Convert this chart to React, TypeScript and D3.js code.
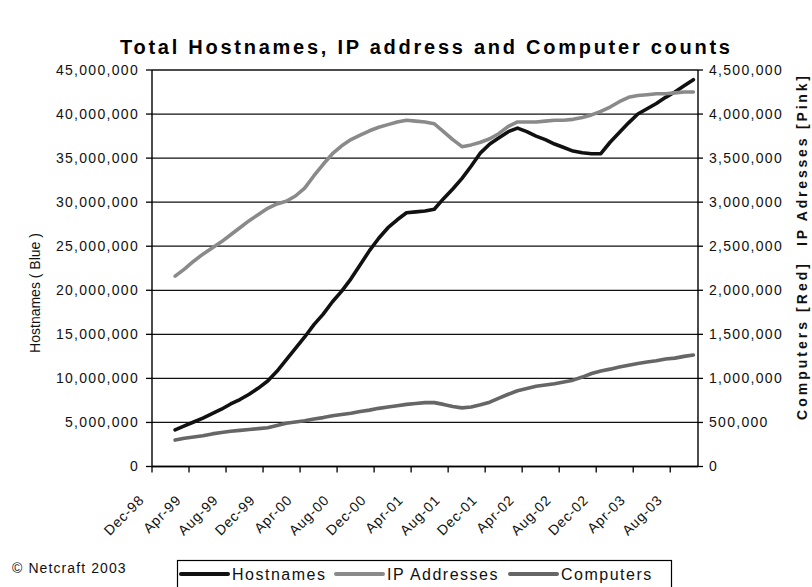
import React from "react";
import * as d3 from "d3";

// Monthly survey categories, Dec-98 .. Oct-03
const months: string[] = d3
  .timeMonths(new Date(1998, 11, 1), new Date(2003, 10, 1))
  .map(d3.timeFormat("%b-%y"));

// Survey starts in Feb-99 (first two months have no readings)
const hostnamesM: (number | null)[] = [
  null, null,
  4.15, 4.6, 5.05, 5.5, 6.0, 6.5, 7.1, 7.6, 8.2, 8.9,
  9.7, 10.8, 12.1, 13.4, 14.7, 16.1, 17.3, 18.7, 19.9, 21.3,
  22.9, 24.5, 25.9, 27.1, 28.0, 28.8, 28.9, 29.0, 29.2, 30.4,
  31.5, 32.7, 34.1, 35.6, 36.6, 37.3, 38.0, 38.4, 38.0, 37.5,
  37.1, 36.6, 36.2, 35.8, 35.6, 35.5, 35.5, 36.8, 37.9, 39.0,
  40.0, 40.6, 41.2, 41.9, 42.5, 43.2, 43.9,
];

const ipAddressesM: (number | null)[] = [
  null, null,
  2.16, 2.24, 2.33, 2.41, 2.48, 2.55, 2.63, 2.71, 2.79, 2.86,
  2.93, 2.98, 3.01, 3.07, 3.16, 3.30, 3.43, 3.55, 3.64, 3.71,
  3.76, 3.81, 3.85, 3.88, 3.91, 3.93, 3.92, 3.91, 3.89, 3.80,
  3.71, 3.63, 3.65, 3.68, 3.72, 3.78, 3.86, 3.91, 3.91, 3.91,
  3.92, 3.93, 3.93, 3.94, 3.96, 3.99, 4.03, 4.08, 4.14, 4.19,
  4.21, 4.22, 4.23, 4.23, 4.24, 4.25, 4.25,
];

const computersM: (number | null)[] = [
  null, null,
  0.30, 0.32, 0.335, 0.35, 0.37, 0.385, 0.40, 0.41, 0.42, 0.43,
  0.44, 0.465, 0.49, 0.505, 0.52, 0.54, 0.555, 0.575, 0.59, 0.605,
  0.625, 0.64, 0.66, 0.675, 0.69, 0.705, 0.715, 0.725, 0.725, 0.705,
  0.68, 0.665, 0.675, 0.70, 0.73, 0.775, 0.82, 0.86, 0.885, 0.91,
  0.925, 0.94, 0.96, 0.98, 1.015, 1.055, 1.085, 1.105, 1.13, 1.15,
  1.17, 1.185, 1.20, 1.22, 1.23, 1.25, 1.265,
];

const leftTicks: number[] = [0, 5e6, 10e6, 15e6, 20e6, 25e6, 30e6, 35e6, 40e6, 45e6];
const rightTicks: number[] = [0, 5e5, 1e6, 1.5e6, 2e6, 2.5e6, 3e6, 3.5e6, 4e6, 4.5e6];

const legendNames: string[] = ["Hostnames", "IP Addresses", "Computers"];

const FONT = "'Liberation Sans', Arial, sans-serif";

export default function App() {
  const W = 812;
  const H = 587;
  const left = 152;
  const right = 698;
  const top = 70;
  const bottom = 466.5;

  const x = d3.scaleBand<string>().domain(months).range([left, right]).padding(0);
  const cx = (i: number) => (x(months[i]) as number) + x.bandwidth() / 2;
  const yL = d3.scaleLinear().domain([0, 45e6]).range([bottom, top]);
  const yR = d3.scaleLinear().domain([0, 4.5e6]).range([bottom, top]);
  const fmt = d3.format(",");

  const lineL = d3
    .line<number | null>()
    .defined((d) => d != null)
    .x((_, i) => cx(i))
    .y((d) => yL((d as number) * 1e6));
  const lineR = d3
    .line<number | null>()
    .defined((d) => d != null)
    .x((_, i) => cx(i))
    .y((d) => yR((d as number) * 1e6));

  const series = [
    { name: legendNames[0], d: lineL(hostnamesM) || "", color: "#111111" },
    { name: legendNames[1], d: lineR(ipAddressesM) || "", color: "#8a8a8a" },
    { name: legendNames[2], d: lineR(computersM) || "", color: "#666666" },
  ];

  const tickIdx = months.map((_, i) => i).filter((i) => i % 4 === 0);
  const legendX = [181, 336, 510];

  return (
    <svg
      width={W}
      height={H}
      style={{ position: "absolute", left: 0, top: 0, background: "#fff" }}
      fontFamily={FONT}
    >
      <rect x={0} y={0} width={W} height={H} fill="#fff" />

      {/* title */}
      <text
        x={425}
        y={54}
        textAnchor="middle"
        fontSize={20}
        fontWeight="bold"
        textLength={610}
        lengthAdjust="spacing"
        fill="#000"
      >
        Total Hostnames, IP address and Computer counts
      </text>

      {/* horizontal gridlines */}
      {leftTicks.map((t) => (
        <line
          key={"g" + t}
          x1={left}
          x2={right}
          y1={yL(t)}
          y2={yL(t)}
          stroke="#111"
          strokeWidth={1.3}
        />
      ))}

      {/* axes */}
      <line x1={left} x2={left} y1={top} y2={bottom + 0.5} stroke="#000" strokeWidth={1.4} />
      <line x1={right} x2={right} y1={top} y2={bottom + 0.5} stroke="#000" strokeWidth={1.4} />
      <line x1={left} x2={right} y1={bottom} y2={bottom} stroke="#000" strokeWidth={1.4} />

      {/* left axis ticks and labels */}
      {leftTicks.map((t) => (
        <g key={"l" + t}>
          <line x1={left - 6} x2={left} y1={yL(t)} y2={yL(t)} stroke="#000" strokeWidth={1.3} />
          <text
            x={139}
            y={yL(t)}
            dy="0.35em"
            textAnchor="end"
            fontSize={14}
            letterSpacing={1.3}
            fill="#111"
          >
            {fmt(t)}
          </text>
        </g>
      ))}

      {/* right axis ticks and labels */}
      {rightTicks.map((t) => (
        <g key={"r" + t}>
          <line x1={right} x2={right + 5} y1={yR(t)} y2={yR(t)} stroke="#000" strokeWidth={1.3} />
          <text
            x={709}
            y={yR(t)}
            dy="0.35em"
            textAnchor="start"
            fontSize={14}
            letterSpacing={1.3}
            fill="#111"
          >
            {fmt(t)}
          </text>
        </g>
      ))}

      {/* category ticks and rotated labels */}
      {tickIdx.map((i) => {
        const tx = x(months[i]) as number;
        return (
          <g key={"x" + i}>
            <line x1={tx} x2={tx} y1={bottom} y2={bottom + 6} stroke="#000" strokeWidth={1.3} />
            <text
              transform={`translate(${tx - 7},${501}) rotate(-45)`}
              textAnchor="end"
              fontSize={14}
              letterSpacing={0.8}
              fill="#111"
            >
              {months[i]}
            </text>
          </g>
        );
      })}

      {/* axis titles */}
      <text
        transform={`translate(40,293) rotate(-90)`}
        textAnchor="middle"
        fontSize={14}
        fill="#111"
      >
        Hostnames ( Blue )
      </text>
      <text
        transform={`translate(807,342) rotate(-90)`}
        textAnchor="middle"
        fontSize={14}
        fontWeight="bold"
        textLength={156}
        lengthAdjust="spacing"
        fill="#111"
      >
        Computers [Red]
      </text>
      <text
        transform={`translate(807,161) rotate(-90)`}
        textAnchor="middle"
        fontSize={14}
        fontWeight="bold"
        textLength={170}
        lengthAdjust="spacing"
        fill="#111"
      >
        IP Adresses [Pink]
      </text>

      {/* series lines */}
      {series.map((s) => (
        <path
          key={s.name}
          d={s.d}
          fill="none"
          stroke={s.color}
          strokeWidth={3.6}
          strokeLinejoin="round"
          strokeLinecap="round"
        />
      ))}

      {/* copyright */}
      <text x={12} y={573} fontSize={14} letterSpacing={1.1} fill="#111">
        © Netcraft 2003
      </text>

      {/* legend */}
      <rect x={177.5} y={560.5} width={494} height={34} fill="#fff" stroke="#000" strokeWidth={1.2} />
      {series.map((s, i) => (
        <g key={"lg" + s.name}>
          <line
            x1={legendX[i]}
            x2={legendX[i] + 47}
            y1={574}
            y2={574}
            stroke={s.color}
            strokeWidth={4}
            strokeLinecap="round"
          />
          <text
            x={legendX[i] + 51}
            y={580}
            fontSize={16}
            letterSpacing={1.5}
            fill="#111"
          >
            {s.name}
          </text>
        </g>
      ))}
    </svg>
  );
}
